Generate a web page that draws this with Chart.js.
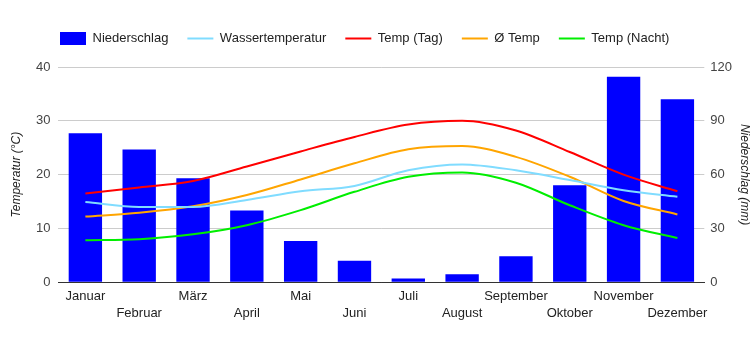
<!DOCTYPE html>
<html>
<head>
<meta charset="utf-8">
<script src="https://cdn.jsdelivr.net/npm/chart.js@4/dist/chart.umd.min.js"></script>
<style>
  html, body { margin: 0; padding: 0; background: #fff; }
  #wrap { width: 750px; height: 350px; }
</style>
</head>
<body>
<div id="wrap"><canvas id="klimaChart"></canvas></div>
<script>
const monate = ['Januar', 'Februar', 'März', 'April', 'Mai', 'Juni', 'Juli', 'August', 'September', 'Oktober', 'November', 'Dezember'];
const niederschlag = [83, 74, 58, 40, 23, 12, 2, 4.5, 14.5, 54, 114.5, 102];
const wasserTemp = [14.9, 14.0, 14.0, 15.3, 16.9, 17.9, 20.8, 21.9, 20.8, 19.0, 17.1, 15.9];
const tempTag = [16.5, 17.6, 18.8, 21.5, 24.3, 27.0, 29.3, 30.0, 28.2, 24.2, 20.0, 16.9];
const tempMittel = [12.2, 12.9, 14.1, 16.2, 19.1, 22.1, 24.7, 25.3, 23.3, 19.6, 15.1, 12.6];
const tempNacht = [7.8, 8.0, 8.9, 10.6, 13.4, 16.8, 19.6, 20.4, 18.5, 14.3, 10.6, 8.2];
const tempTicks = [0, 10, 20, 30, 40];
const mmTicks = [0, 30, 60, 90, 120];

// every second month goes to a second row, like the original
const labels = monate.map((m, i) => (i % 2 ? ['', m] : [m]));

const FONT = 'Arial, "Liberation Sans", sans-serif';
Chart.defaults.font.family = FONT;
Chart.defaults.color = '#444';

function line(label, data, color) {
  return {
    type: 'line', label, data, yAxisID: 'y',
    borderColor: color, backgroundColor: color, borderWidth: 2,
    pointRadius: 0, tension: 0.4, cubicInterpolationMode: 'monotone', order: 0
  };
}

const legendShift = {
  id: 'legendShift',
  afterLayout(chart) {
    chart.legend.left = 41;
    chart.legend.top = 13;
  }
};

new Chart(document.getElementById('klimaChart'), {
  data: {
    labels,
    datasets: [
      { type: 'bar', label: 'Niederschlag', data: niederschlag, yAxisID: 'y1',
        backgroundColor: '#0000ff', borderWidth: 0, barPercentage: 1, categoryPercentage: 0.62, order: 5 },
      line('Wassertemperatur', wasserTemp, '#80dcff'),
      line('Temp (Tag)', tempTag, '#ff0000'),
      line('Ø Temp', tempMittel, '#ffa500'),
      line('Temp (Nacht)', tempNacht, '#00ee00')
    ]
  },
  options: {
    responsive: true,
    maintainAspectRatio: false,
    animation: false,
    layout: { padding: { top: 25, left: 11, right: 0, bottom: 22 } },
    plugins: {
      tooltip: { enabled: false },
      legend: {
        position: 'top',
        align: 'start',
        labels: {
          usePointStyle: true,
          pointStyleWidth: 26,
          padding: 19,
          color: '#222',
          font: { size: 13 },
          sort: (a, b) => a.datasetIndex - b.datasetIndex,
          generateLabels(chart) {
            return chart.data.datasets.map((d, i) => ({
              text: d.label,
              fillStyle: d.backgroundColor,
              strokeStyle: d.type === 'bar' ? d.backgroundColor : d.borderColor,
              lineWidth: d.type === 'bar' ? 0 : 2,
              pointStyle: d.type === 'bar' ? 'rect' : 'line',
              datasetIndex: i,
              fontColor: '#222'
            }));
          }
        }
      }
    },
    scales: {
      x: {
        grid: { display: false, drawTicks: false },
        border: { color: '#333', width: 1 },
        ticks: { autoSkip: false, maxRotation: 0, padding: 6, font: { size: 13, lineHeight: 1.3 }, color: '#222' }
      },
      y: {
        position: 'left', min: 0, max: 40,
        afterBuildTicks: (s) => { s.ticks = tempTicks.map((v) => ({ value: v })); },
        grid: { color: (c) => (c.tick && c.tick.value === 0 ? '#333' : '#ccc'), drawTicks: false },
        border: { display: false },
        ticks: { padding: 8, font: { size: 13 }, color: '#444' },
        title: { display: true, text: 'Temperatur (°C)', font: { size: 12, style: 'italic', lineHeight: 1 }, color: '#222', padding: { top: 0, bottom: 5 } }
      },
      y1: {
        position: 'right', min: 0, max: 120,
        afterBuildTicks: (s) => { s.ticks = mmTicks.map((v) => ({ value: v })); },
        grid: { drawOnChartArea: false, drawTicks: false },
        border: { display: false },
        ticks: { padding: 6, font: { size: 13 }, color: '#444' },
        title: { display: true, text: 'Niederschlag (mm)', font: { size: 12, style: 'italic', lineHeight: 1 }, color: '#222', padding: { top: 0, bottom: 0 } }
      }
    }
  },
  plugins: [legendShift]
});
</script>
</body>
</html>
